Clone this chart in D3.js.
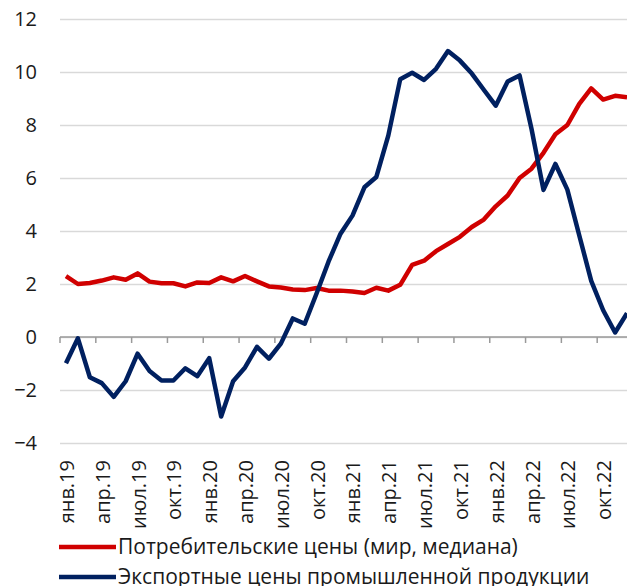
<!DOCTYPE html>
<html>
<head>
<meta charset="utf-8">
<script src="https://cdn.jsdelivr.net/npm/d3@7"></script>
<style>
	body { margin: 0; background: #fff; }
	svg { display: block; font-family: "Open Sans", sans-serif; }
</style>
</head>
<body>
<svg id="chart" width="627" height="586"></svg>
<script>
// Подписи месяцев и годы
var monthNames = ["янв", "фев", "мар", "апр", "май", "июн", "июл", "авг", "сен", "окт", "ноя", "дек"];
var years = ["19", "20", "21", "22"];

// Потребительские цены (мир, медиана), %
var consumerPrices = [2.3, 2.0, 2.04, 2.13, 2.25, 2.16, 2.4, 2.09, 2.03, 2.03, 1.91, 2.06,
	2.04, 2.25, 2.1, 2.3, 2.1, 1.91, 1.87, 1.79, 1.77, 1.85, 1.75, 1.75,
	1.72, 1.66, 1.86, 1.75, 1.97, 2.72, 2.88, 3.24, 3.51, 3.78, 4.15, 4.43,
	4.93, 5.34, 6.0, 6.35, 6.95, 7.65, 8.0, 8.8, 9.38, 8.96, 9.1, 9.05];

// Экспортные цены промышленной продукции, %
var exportPrices = [-0.99, -0.05, -1.52, -1.74, -2.26, -1.67, -0.63, -1.28, -1.64, -1.64, -1.18, -1.48,
	-0.8, -3.0, -1.67, -1.15, -0.37, -0.82, -0.25, 0.7, 0.5, 1.65, 2.85, 3.9,
	4.58, 5.65, 6.04, 7.6, 9.73, 9.97, 9.7, 10.12, 10.79, 10.43, 9.94, 9.33,
	8.73, 9.64, 9.87, 7.85, 5.55, 6.53, 5.56, 3.83, 2.12, 1.01, 0.17, 0.9];

var yTicks = [-4, -2, 0, 2, 4, 6, 8, 10, 12];

var seriesNames = ["Потребительские цены (мир, медиана)", "Экспортные цены промышленной продукции"];
var seriesColors = ["#d00000", "#002060"];

init();

function init(){
	var months = [];
	years.forEach(function(yr){
		monthNames.forEach(function(m){
			months.push(m + "." + yr);
		});
	});

	var svg = d3.select("#chart");

	var left = 60, right = 633, top = 19, bottom = 443;

	var x = d3.scaleBand()
		.domain(months)
		.range([left, right]);

	var y = d3.scaleLinear()
		.domain([-4, 12])
		.range([bottom, top]);

	// сетка
	svg.append("g")
		.attr("class", "grid")
		.attr("transform", "translate(" + left + ",0)")
		.call(d3.axisLeft(y).tickValues(yTicks).tickSize(-(right - left)).tickFormat(""))
		.call(function(g){ g.select(".domain").remove(); })
		.selectAll("line")
		.attr("stroke", "#d9d9d9")
		.attr("stroke-width", 1.3);

	// подписи оси Y
	svg.append("g")
		.attr("transform", "translate(" + left + ",0)")
		.call(d3.axisLeft(y).tickValues(yTicks).tickSize(0).tickPadding(23))
		.call(function(g){ g.select(".domain").remove(); })
		.selectAll("text")
		.attr("font-size", "20px")
		.attr("font-family", "Open Sans, sans-serif")
		.attr("fill", "#1a1a1a");

	// ось X на нуле
	var labelMonths = months.filter(function(d, i){ return i % 3 === 0; });

	var xAxis = svg.append("g")
		.attr("class", "axis axis--x");

	xAxis.append("line")
		.attr("x1", left)
		.attr("x2", right)
		.attr("y1", y(0))
		.attr("y2", y(0))
		.attr("stroke", "#9a9a9a")
		.attr("stroke-width", 1.5);

	xAxis.selectAll(".tickmark")
		.data(labelMonths)
		.enter().append("line")
		.attr("class", "tickmark")
		.attr("x1", function(d){ return x(d); })
		.attr("x2", function(d){ return x(d); })
		.attr("y1", y(0))
		.attr("y2", y(0) + 6)
		.attr("stroke", "#9a9a9a")
		.attr("stroke-width", 1.5);

	// подписи месяцев
	svg.append("g")
		.selectAll("text")
		.data(labelMonths)
		.enter().append("text")
		.attr("transform", function(d){ return "translate(" + (x(d) + x.bandwidth() / 2 + 1) + ",460) rotate(-90)"; })
		.attr("text-anchor", "end")
		.attr("dy", "0.35em")
		.attr("font-size", "20px")
		.attr("fill", "#1a1a1a")
		.text(function(d){ return d; });

	// линии
	var line = d3.line()
		.x(function(d, i){ return x(months[i]) + x.bandwidth() / 2; })
		.y(function(d){ return y(d); });

	[consumerPrices, exportPrices].forEach(function(s, k){
		svg.append("path")
			.datum(s)
			.attr("fill", "none")
			.attr("stroke", seriesColors[k])
			.attr("stroke-width", 4.5)
			.attr("stroke-linejoin", "round")
			.attr("d", line);
	});

	// легенда
	var legend = svg.append("g");
	seriesNames.forEach(function(name, k){
		var ly = 547 + k * 30;
		legend.append("line")
			.attr("x1", 59)
			.attr("x2", 116)
			.attr("y1", ly)
			.attr("y2", ly)
			.attr("stroke", seriesColors[k])
			.attr("stroke-width", 4.5);
		legend.append("text")
			.attr("x", 118)
			.attr("y", ly)
			.attr("dy", "0.35em")
			.attr("font-size", "21px")
			.attr("fill", "#1a1a1a")
			.text(name);
	});
}
</script>
</body>
</html>
